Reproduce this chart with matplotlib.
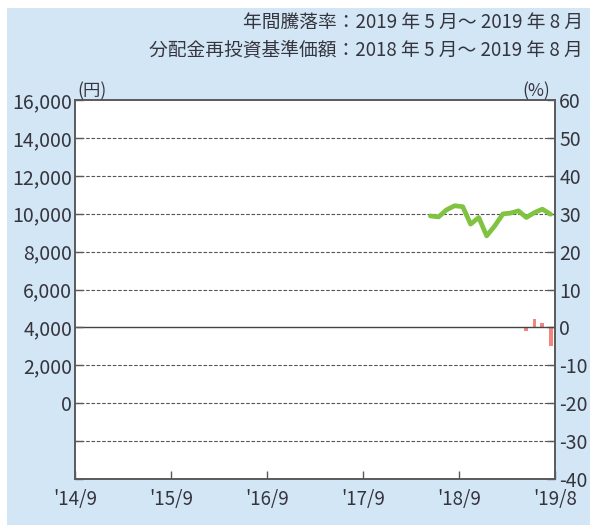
import matplotlib
matplotlib.use("Agg")
import matplotlib.pyplot as plt
from matplotlib.patches import Rectangle
import pandas as pd

plt.rcParams['font.family'] = ['Noto Sans CJK JP', 'DejaVu Sans']

# ---- data ----
nav_months = ["2018-05", "2018-06", "2018-07", "2018-08", "2018-09", "2018-10",
              "2018-11", "2018-12", "2019-01", "2019-02", "2019-03", "2019-04",
              "2019-05", "2019-06", "2019-07", "2019-08"]
nav_values = [9880, 9830, 10200, 10420, 10370, 9450, 9800, 8830, 9360, 9990,
              10030, 10150, 9800, 10060, 10240, 9970]

ret_months = ["2019-05", "2019-06", "2019-07", "2019-08"]
ret_values = [-0.9, 2.2, 1.1, -4.9]

xtick_dates = ["2014-09-01", "2015-09-01", "2016-09-01", "2017-09-01", "2018-09-01", "2019-09-01"]
xtick_labels = ["'14/9", "'15/9", "'16/9", "'17/9", "'18/9", "'19/8"]
left_ticks = list(range(-4000, 16001, 2000))
right_ticks = list(range(-40, 61, 10))

title1 = "年間騰落率：2019 年 5 月～ 2019 年 8 月"
title2 = "分配金再投資基準価額：2018 年 5 月～ 2019 年 8 月"

# ---- styles ----
bg = "#d3e6f5"
txt = "#35353d"
spine_c = "#5a5a5a"
green = "#80c341"
red = "#f4847f"

fig = plt.figure(figsize=(5.9, 5.25), dpi=100, facecolor="white")
fig.patches.append(Rectangle((7 / 590, 0), 1 - 7 / 590, 1 - 8 / 525,
                             transform=fig.transFigure, facecolor=bg,
                             edgecolor="none", zorder=-10))

ax = fig.add_axes([75 / 590, 1 - 479 / 525, (555 - 75) / 590, (479 - 100) / 525])
ax2 = ax.twinx()
ax2.set_zorder(1)
ax.set_zorder(2)
ax.patch.set_visible(False)
ax2.patch.set_visible(True)
ax2.patch.set_facecolor("white")

nav_x = pd.to_datetime([m + "-15" for m in nav_months])
ret_x = pd.to_datetime([m + "-15" for m in ret_months])

ax.set_xlim(pd.Timestamp("2014-09-01"), pd.Timestamp("2019-09-01"))
ax.set_ylim(-4000, 16000)
ax2.set_ylim(-40, 60)

# grid lines
for v in left_ticks[1:-1]:
    if v == 4000:
        ax.axhline(v, color="#444444", lw=1.0, zorder=1)
    else:
        ax.axhline(v, color="#555555", lw=0.8, ls=(0, (3.2, 1.6)), zorder=1)

ax2.bar(ret_x, ret_values, width=15, color=red, zorder=3)
ax.plot(nav_x, nav_values, color=green, lw=3.4, solid_joinstyle="round",
        solid_capstyle="round", zorder=3)

# ticks
ax.set_yticks(left_ticks)
ax.set_yticklabels([f"{v:,}" if v >= 0 else "" for v in left_ticks])
ax2.set_yticks(right_ticks)
ax2.set_yticklabels([str(v) for v in right_ticks])
ax.set_xticks(pd.to_datetime(xtick_dates))
ax.set_xticklabels(xtick_labels)

ax.tick_params(axis="y", direction="in", length=6, width=1, color=spine_c,
               labelsize=14, labelcolor=txt, pad=2)
ax2.tick_params(axis="y", direction="in", length=6, width=1, color=spine_c,
                labelsize=14, labelcolor=txt, pad=3)
ax.tick_params(axis="x", direction="in", length=6, width=1, color=spine_c,
               labelsize=13.5, labelcolor=txt, pad=7)
ax2.tick_params(axis="x", length=0)

for a in (ax, ax2):
    for s in a.spines.values():
        s.set_color(spine_c)
        s.set_linewidth(1.2)

ax.text(0.005, 1.0, "(円)", transform=ax.transAxes, ha="left", va="bottom",
        fontsize=12.5, color=txt)
ax.text(0.99, 1.0, "(%)", transform=ax.transAxes, ha="right", va="bottom",
        fontsize=12.5, color=txt)

fig.text(583 / 590, 1 - 22 / 525, title1, ha="right", va="center",
         fontsize=13.5, color=txt)
fig.text(583 / 590, 1 - 50 / 525, title2, ha="right", va="center",
         fontsize=13.5, color=txt)

fig.savefig("out.png", dpi=100, facecolor="white")
